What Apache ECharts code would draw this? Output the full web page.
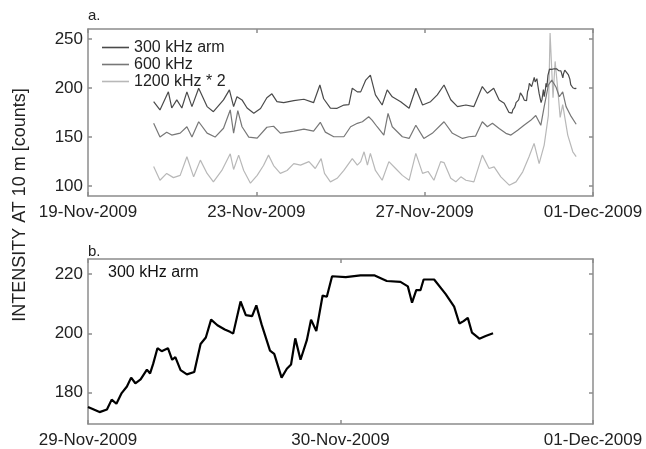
<!DOCTYPE html>
<html>
<head>
<meta charset="utf-8">
<script src="https://cdn.jsdelivr.net/npm/echarts@6/dist/echarts.min.js"></script>
<style>
html, body { margin: 0; padding: 0; background: #fff; }
#chart { width: 646px; height: 449px; }
</style>
</head>
<body>
<div id="chart"></div>
<script>
// days counted from 19-Nov-2009 00:00
var seriesNames = ["300 kHz arm", "600 kHz", "1200 kHz * 2"];
var monthNames = ["Jan", "Feb", "Mar", "Apr", "May", "Jun", "Jul", "Aug", "Sep", "Oct", "Nov", "Dec"];
var topTicksY = [100, 150, 200, 250];
var bottomTicksY = [180, 200, 220];

var days300 = [1.56, 1.71, 1.91, 1.99, 2.11, 2.23, 2.35, 2.47, 2.63, 2.83, 2.98, 3.22, 3.36, 3.46, 3.54, 3.66, 3.78, 3.94, 4.10, 4.25, 4.37, 4.49, 4.65, 4.89, 5.13, 5.36, 5.51, 5.60, 5.76, 5.92, 6.08, 6.20, 6.28, 6.40, 6.48, 6.60, 6.71, 6.83, 6.99, 7.11, 7.23, 7.43, 7.63, 7.79, 7.95, 8.14, 8.30, 8.46, 8.62, 8.78, 8.98, 9.17, 9.37, 9.49, 9.64, 9.77, 9.89];
var vals300 = [186, 177.6, 196, 179.6, 187.8, 179.6, 196, 181, 199.7, 181, 175.8, 187.8, 198, 181, 191, 187.8, 179.6, 174.2, 179, 190, 194, 186, 185, 187, 188.5, 185, 203, 189, 179.5, 179.3, 182.6, 183, 199.7, 196, 196, 208, 213, 193, 182.6, 198, 191, 186, 179.3, 199.7, 182.6, 186, 193, 203, 188, 181, 182.6, 181, 201.4, 194.6, 199.7, 187.8, 184.4];

var days600 = [1.56, 1.71, 1.87, 1.99, 2.19, 2.35, 2.47, 2.63, 2.83, 3.02, 3.22, 3.38, 3.46, 3.56, 3.66, 3.82, 4.02, 4.25, 4.41, 4.57, 4.89, 5.13, 5.36, 5.52, 5.64, 5.84, 6.08, 6.24, 6.40, 6.52, 6.67, 6.75, 6.87, 7.03, 7.13, 7.23, 7.47, 7.63, 7.79, 7.98, 8.18, 8.46, 8.66, 8.90, 9.05, 9.21, 9.37, 9.49, 9.61, 9.77, 9.93, 10.05, 10.21, 10.36, 10.52, 10.64, 10.76, 10.84, 10.94, 11.02, 11.12, 11.20, 11.28, 11.36, 11.48, 11.60];
var vals600 = [164, 150, 155, 152, 154, 160.5, 150, 165.6, 154, 150, 159, 177.6, 154, 177, 160.5, 150, 149, 160, 161, 154, 156, 158, 156, 165, 155, 150.3, 150.3, 160.5, 164, 165.6, 170.7, 167.3, 160.5, 152, 174, 160.5, 150.3, 148.6, 162, 148.6, 153.8, 165.6, 153.8, 148.6, 150.3, 151, 165.6, 160.5, 164, 158.8, 153.8, 152, 157, 162, 167, 172, 162, 181, 203, 208, 201, 191, 196, 181, 171, 163];

var days1200 = [1.56, 1.71, 1.87, 2.03, 2.19, 2.35, 2.51, 2.67, 2.83, 2.98, 3.18, 3.38, 3.46, 3.58, 3.70, 3.86, 4.02, 4.17, 4.29, 4.41, 4.57, 4.73, 4.89, 5.05, 5.25, 5.40, 5.54, 5.62, 5.76, 5.92, 6.08, 6.28, 6.40, 6.48, 6.56, 6.64, 6.71, 6.83, 6.99, 7.15, 7.31, 7.47, 7.63, 7.79, 7.95, 8.08, 8.22, 8.38, 8.46, 8.62, 8.74, 8.86, 8.98, 9.17, 9.37, 9.53, 9.65, 9.81, 10.01, 10.17, 10.33, 10.48, 10.60, 10.72, 10.84, 10.94, 10.98, 11.05, 11.10, 11.16, 11.22, 11.28, 11.40, 11.52, 11.60];
var vals1200 = [120, 106, 113, 108.7, 111, 130, 109.5, 126.5, 113, 104.4, 116, 133, 117, 131.6, 116, 103, 111, 121, 131.6, 121, 113, 116, 123, 121.4, 125, 118, 128, 113, 104.4, 108, 116, 128, 121.4, 125, 135, 121.4, 133.4, 116, 106, 125, 118, 111, 106, 133.4, 113, 115, 106, 125, 124, 108, 104.4, 109.5, 106, 104.4, 131.6, 118, 119.7, 109.5, 101, 104.4, 114.6, 130, 143.6, 123, 141.8, 172, 256, 190, 227, 200, 170, 183, 152, 135, 130];

// panel b: hours after 29-Nov-2009 00:00
var armHours = [0, 1.1, 1.8, 2.25, 2.7, 3.2, 3.7, 4.1, 4.5, 5.0, 5.6, 5.9, 6.2, 6.6, 7.0, 7.6, 8.0, 8.3, 8.8, 9.4, 10.1, 10.7, 11.2, 11.7, 12.3, 13.0, 13.5, 13.8, 14.5, 15.0, 15.6, 16.0, 16.5, 17.3, 17.7, 18.4, 18.9, 19.3, 19.7, 20.2, 20.8, 21.2, 21.7, 22.3, 22.7, 23.2, 24.5, 25.9, 27.2, 28.4, 29.7, 30.4, 30.8, 31.2, 31.6, 31.9, 32.9, 34.0, 34.8, 35.3, 35.7, 36.1, 36.5, 37.2, 37.8, 38.5];
var armVals = [175.2, 173.5, 174.4, 177.7, 176.3, 179.9, 182.1, 185.1, 183.2, 184.5, 187.8, 186.5, 189.8, 195.0, 194.0, 195.0, 191.1, 192.0, 187.6, 186.2, 187.0, 196.4, 198.6, 204.6, 202.7, 201.3, 200.5, 199.9, 210.7, 206.1, 205.8, 209.4, 203.0, 194.2, 193.1, 185.1, 188.1, 189.5, 198.3, 191.1, 197.7, 204.6, 200.8, 212.7, 212.3, 219.2, 218.9, 219.5, 219.5, 217.6, 217.3, 215.8, 210.3, 214.5, 214.5, 218.1, 218.1, 213.2, 209.0, 203.3, 204.1, 205.2, 200.2, 198.2, 199.1, 200.0];

function pairs(xs, ys) {
	var out = [];
	for (var i = 0; i < xs.length; i++) out.push([xs[i], ys[i]]);
	return out;
}

var armDays = armHours.map(function (h) { return 10 + h / 24; });
var line300 = pairs(days300, vals300).concat(pairs(armDays, armVals));

function dayLabel(d) {
	var t = new Date(Date.UTC(2009, 10, 19) + Math.round(d * 86400000));
	var dd = t.getUTCDate();
	return (dd < 10 ? "0" + dd : dd) + "-" + monthNames[t.getUTCMonth()] + "-" + t.getUTCFullYear();
}

var font = "Liberation Sans, Arial, sans-serif";
var boxColor = "#8c8c8c";
var lineStyleAxis = { color: boxColor, width: 1.5 };

function xAxisFor(grid, pos, min, max, step, labels) {
	return {
		type: "value", gridIndex: grid, position: pos, min: min, max: max, interval: step,
		axisLine: { show: true, onZero: false, lineStyle: lineStyleAxis },
		axisTick: { show: true, inside: true, length: 4, lineStyle: lineStyleAxis },
		axisLabel: {
			show: labels, formatter: dayLabel, fontSize: 17, color: "#222", fontFamily: font,
			margin: 8, showMinLabel: true, showMaxLabel: true
		},
		splitLine: { show: false }
	};
}

function yAxisFor(grid, pos, min, max, ticks, labels) {
	return {
		type: "value", gridIndex: grid, position: pos, min: min, max: max,
		axisLine: { show: true, onZero: false, lineStyle: lineStyleAxis },
		axisTick: { show: true, inside: true, length: 4, customValues: ticks, lineStyle: lineStyleAxis },
		axisLabel: { show: labels, customValues: ticks, fontSize: 17, color: "#222", fontFamily: font, margin: 5 },
		splitLine: { show: false }
	};
}

var chart = echarts.init(document.getElementById("chart"), null, { renderer: "canvas" });
var option = {
	backgroundColor: "#fff",
	animation: false,
	grid: [
		{ left: 88, top: 29, width: 505, height: 167 },
		{ left: 88, top: 259, width: 505, height: 168 }
	],
	xAxis: [
		xAxisFor(0, "bottom", 0, 12, 4, true),
		xAxisFor(0, "top", 0, 12, 4, false),
		xAxisFor(1, "bottom", 10, 12, 1, true),
		xAxisFor(1, "top", 10, 12, 1, false)
	],
	yAxis: [
		yAxisFor(0, "left", 90, 260, topTicksY, true),
		yAxisFor(0, "right", 90, 260, topTicksY, false),
		yAxisFor(1, "left", 169.5, 225, bottomTicksY, true),
		yAxisFor(1, "right", 169.5, 225, bottomTicksY, false)
	],
	legend: {
		orient: "vertical", left: 102, top: 39, padding: 0, itemGap: 0,
		icon: "rect", itemWidth: 27, itemHeight: 1.6,
		textStyle: { fontSize: 16, color: "#222", fontFamily: font, lineHeight: 17 },
		data: seriesNames
	},
	series: [
		{
			name: seriesNames[0], type: "line", xAxisIndex: 0, yAxisIndex: 0, symbol: "none",
			data: line300, lineStyle: { color: "#4a4a4a", width: 1.2 }, itemStyle: { color: "#4a4a4a" }, z: 4
		},
		{
			name: seriesNames[1], type: "line", xAxisIndex: 0, yAxisIndex: 0, symbol: "none",
			data: pairs(days600, vals600), lineStyle: { color: "#777", width: 1.2 }, itemStyle: { color: "#777" }, z: 3
		},
		{
			name: seriesNames[2], type: "line", xAxisIndex: 0, yAxisIndex: 0, symbol: "none",
			data: pairs(days1200, vals1200), lineStyle: { color: "#b8b8b8", width: 1.2 }, itemStyle: { color: "#b8b8b8" }, z: 2
		},
		{
			name: "arm b", type: "line", xAxisIndex: 2, yAxisIndex: 2, symbol: "none",
			data: pairs(armDays, armVals), lineStyle: { color: "#000", width: 2.2 }
		}
	],
	graphic: [
		{ type: "text", left: 88, top: 8, style: { text: "a.", fontSize: 15, fill: "#222", fontFamily: font } },
		{ type: "text", left: 88, top: 244, style: { text: "b.", fontSize: 15, fill: "#222", fontFamily: font } },
		{ type: "text", left: 108, top: 265, style: { text: "300 kHz arm", fontSize: 16, fill: "#111", fontFamily: font } },
		{
			type: "text", x: 20, y: 205, rotation: Math.PI / 2,
			style: { text: "INTENSITY AT 10 m [counts]", fontSize: 18, fill: "#222", fontFamily: font, align: "center", verticalAlign: "middle" }
		}
	]
};
chart.setOption(option);
</script>
</body>
</html>
